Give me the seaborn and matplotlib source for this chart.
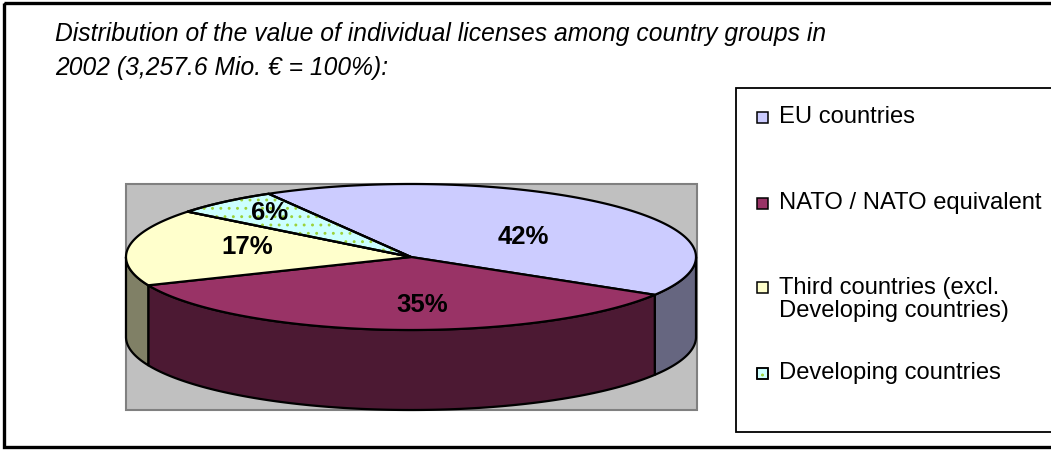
import numpy as np
import matplotlib
matplotlib.use("Agg")
import matplotlib.pyplot as plt
import seaborn as sns
from matplotlib.patches import Polygon, Rectangle

# ---- data -------------------------------------------------------------
categories = ["EU countries", "NATO / NATO equivalent",
              "Third countries (excl.\nDeveloping countries)", "Developing countries"]
shares = [42, 35, 17, 6]
title_lines = ["Distribution of the value of individual licenses among country groups in",
               "2002 (3,257.6 Mio. \u20ac = 100%):"]

# ---- style ------------------------------------------------------------
top_colors = ["#CCCCFF", "#993366", "#FFFFCC", "#CCFFFF"]
side_colors = ["#666680", "#4C1933", "#808066", "#668080"]
dot_color = "#9CD23A"
label_radius = [0.55, 0.6, 0.58, 0.76]
label_nudge = [(0, 8), (24, 4), (0, -4), (0, -2)]

sns.set_theme(style="white")
plt.rcParams["font.family"] = ["Liberation Sans", "DejaVu Sans"]
plt.rcParams["hatch.linewidth"] = 0.9

W, H = 1051, 451
fig = plt.figure(figsize=(W / 100, H / 100), dpi=100)
ax = fig.add_axes([0, 0, 1, 1])
ax.set_xlim(0, W)
ax.set_ylim(H, 0)
ax.axis("off")
renderer = fig.canvas.get_renderer()


def fit_text(x, y, s, width, size0=14, **kw):
    t = ax.text(x, y, s, fontsize=size0, **kw)
    w = t.get_window_extent(renderer).width
    t.set_fontsize(size0 * width / w)
    return t


# chart frame and plot area
ax.add_patch(Rectangle((3.5, 3), W + 20, 444, fill=False, ec="black", lw=2.4, zorder=1))
ax.add_patch(Rectangle((126, 184), 571, 226, fc="#C0C0C0", ec="#808080", lw=1.5, zorder=1))

# ---- 3-D pie ----------------------------------------------------------
cx, cy, rx, ry, depth = 411, 257, 285, 73, 80
start = 120.0
fracs = np.asarray(shares, float) / np.sum(shares)
bounds = start - 360 * np.concatenate([[0], np.cumsum(fracs)])


def ring(th, dz=0.0):
    t = np.radians(th)
    return np.column_stack([cx + rx * np.cos(t), cy - ry * np.sin(t) + dz])


edge = dict(ec="black", lw=1.6, joinstyle="round")

# outer walls of the front half
for i in range(len(shares)):
    hi, lo = bounds[i], bounds[i + 1]
    for k in (0, -360):
        a, b = max(lo, -180 + k), min(hi, 0 + k)
        if b - a <= 0:
            continue
        th = np.linspace(a, b, 120)
        pts = np.vstack([ring(th), ring(th[::-1], depth)])
        ax.add_patch(Polygon(pts, closed=True, fc=side_colors[i], zorder=2, **edge))

# top faces
for i in range(len(shares)):
    hi, lo = bounds[i], bounds[i + 1]
    th = np.linspace(hi, lo, 200)
    pts = np.vstack([[cx, cy], ring(th)])
    ax.add_patch(Polygon(pts, closed=True, fc=top_colors[i], zorder=3, **edge))
    if i == 3:
        ax.add_patch(Polygon(pts, closed=True, fc="none", ec=dot_color, lw=0,
                             hatch="..", zorder=3.5))
        ax.add_patch(Polygon(pts, closed=True, fc="none", zorder=3.6, **edge))

# value labels
for i, v in enumerate(shares):
    mid = np.radians((bounds[i] + bounds[i + 1]) / 2)
    f = label_radius[i]
    dx, dy = label_nudge[i]
    ax.text(cx + rx * f * np.cos(mid) + dx, cy - ry * f * np.sin(mid) + dy, f"{v}%",
            ha="center", va="center", fontsize=18.5, fontweight="bold",
            color="black", zorder=5)

# ---- title ------------------------------------------------------------
t1 = fit_text(55, 41.5, title_lines[0], 770, style="italic", va="baseline", color="black")
ax.text(55, 75, title_lines[1], fontsize=t1.get_fontsize(), style="italic",
        va="baseline", color="black")

# ---- legend -----------------------------------------------------------
ax.add_patch(Rectangle((736, 88), W, 344, fc="white", ec="black", lw=1.3, zorder=1))
row_y = [117, 203, 299.5, 373]
line_step = 25
ref = fit_text(779, row_y[1], categories[1], 263, va="center", color="black")
fs = ref.get_fontsize()
ref.remove()
for i, lab in enumerate(categories):
    n = lab.count("\n") + 1
    ax.text(779, row_y[i], lab, fontsize=fs, va="center", ha="left",
            color="black", linespacing=line_step / (fs * 100 / 72))
    my = row_y[i] - (n - 1) * line_step / 2
    ax.add_patch(Rectangle((757, my - 5.5), 11, 11, fc=top_colors[i], ec="black", lw=1.1, zorder=4))
    if i == 3:
        ax.add_patch(Rectangle((757, my - 5.5), 11, 11, fc="none", ec=dot_color, lw=0,
                               hatch="..", zorder=4.5))
        ax.add_patch(Rectangle((757, my - 5.5), 11, 11, fc="none", ec="black", lw=1.1, zorder=4.6))

fig.savefig("out.png", dpi=100, facecolor="white")
